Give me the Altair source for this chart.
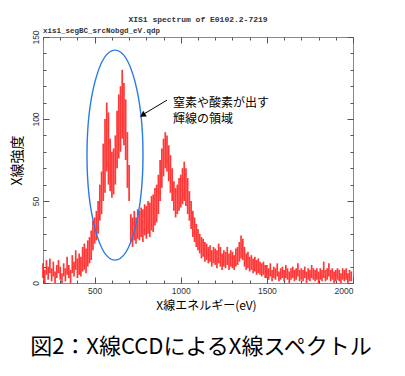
import altair as alt
import pandas as pd

# --- data (10 eV bins, low/high of the drawn error bars) ---
energy = list(range(200, 2000, 10))
low = [
    3, 0, 5, 2, 6, 1, 4, 0, 3, 6,
    2, 0, 4, 1, 5, 3, 0, 6, 4, 8,
    3, 5, 4, 7, 8, 6, 10, 12, 14, 20,
    24, 26, 30, 38, 42, 50, 55, 68, 60, 56,
    52, 54, 60, 70, 76, 80, 88, 84, 75, 58,
    50, 25, 22, 26, 24, 27, 26, 28, 25, 29,
    27, 30, 28, 32, 31, 35, 37, 42, 50, 58,
    65, 70, 68, 62, 55, 50, 44, 40, 42, 44,
    46, 48, 50, 47, 42, 38, 33, 28, 25, 22,
    20, 18, 15, 16, 13, 14, 12, 13, 10, 12,
    11, 9, 12, 10, 8, 10, 9, 11, 8, 10,
    9, 8, 10, 11, 13, 15, 14, 10, 8, 9,
    7, 8, 6, 7, 5, 6, 5, 4, 5, 3,
    3, 2, 4, 1, 3, 2, 4, 1, 2, 3,
    1, 3, 2, 0, 2, 3, 1, 2, 4, 1,
    2, 1, 3, 0, 2, 1, 3, 2, 1, 2,
    0, 2, 1, 3, 1, 2, 4, 1, 2, 0,
    1, 2, 1, 0, 2, 1, 2, 0, 1, 1,
]
high = [
    12, 8, 14, 10, 15, 9, 13, 7, 11, 14,
    10, 6, 12, 9, 16, 11, 8, 17, 13, 20,
    15, 18, 16, 22, 24, 21, 26, 28, 32, 38,
    40, 44, 50, 60, 68, 85, 100, 110, 104, 88,
    80, 82, 90, 105, 115, 120, 130, 122, 112, 92,
    72, 42, 40, 44, 40, 45, 44, 46, 45, 48,
    47, 50, 49, 53, 54, 58, 60, 66, 75, 82,
    88, 92, 90, 84, 78, 70, 62, 58, 60, 64,
    66, 70, 74, 70, 64, 56, 50, 44, 40, 36,
    33, 30, 28, 27, 25, 24, 22, 23, 20, 22,
    21, 20, 24, 22, 18, 20, 19, 22, 18, 20,
    19, 17, 21, 22, 25, 29, 27, 22, 18, 19,
    16, 17, 15, 16, 14, 15, 13, 12, 13, 11,
    11, 9, 12, 8, 10, 9, 12, 7, 9, 10,
    8, 11, 9, 7, 9, 10, 8, 9, 12, 8,
    9, 8, 10, 7, 9, 8, 11, 9, 8, 9,
    7, 9, 8, 13, 8, 9, 12, 8, 9, 7,
    8, 9, 8, 6, 9, 8, 9, 6, 8, 7,
]

x_major = [500, 1000, 1500, 2000]
x_minor = list(range(200, 2001, 100))
y_major = [0, 50, 100, 150]
y_minor = list(range(0, 151, 10))

title_text = "XIS1 spectrum of E0102.2-7219"
file_text = "xis1_segBC_srcNobgd_eV.qdp"
x_title = "X線エネルギー(eV)"
y_title = "X線強度"
note_text = ["窒素や酸素が出す", "輝線の領域"]
caption = "図2：X線CCDによるX線スペクトル"

df = pd.DataFrame({"energy": energy, "low": low, "high": high})

xs = alt.Scale(domain=[200, 2000], nice=False, zero=False)
ys = alt.Scale(domain=[0, 150], nice=False)

TICK = "#555555"
LBL_FONT = "Liberation Sans"
JP = "Noto Sans CJK JP"


def ax(values, size, orient, labels=False, **kw):
    return alt.Axis(values=values, tickSize=size, offset=-size, orient=orient,
                    domain=False, grid=False, labels=labels, tickColor=TICK,
                    tickWidth=1, **kw)


spectrum = alt.Chart(df).mark_rule(color="#ff1414", strokeWidth=1.7, opacity=0.85).encode(
    x=alt.X("energy:Q", scale=xs,
            axis=ax(x_major, 6, "bottom", labels=True, title=x_title, labelPadding=3,
                    format="d",
                    labelFont=LBL_FONT, labelFontSize=8.5, labelColor="#333333",
                    titleFont=JP, titleFontSize=12, titleFontWeight="normal",
                    titleColor="#000000", titlePadding=6, titleX=163)),
    y=alt.Y("low:Q", scale=ys,
            axis=ax(y_major, 6, "left", labels=True, title=y_title, labelPadding=3,
                    labelAngle=-90, labelAlign="center", labelBaseline="bottom",
                    labelFont=LBL_FONT, labelFontSize=8.5, labelColor="#333333",
                    titleFont=JP, titleFontSize=14, titleFontWeight="normal",
                    titleColor="#000000", titlePadding=7)),
    y2="high:Q",
)

minor_bl = alt.Chart(df).mark_point(opacity=0).encode(
    x=alt.X("energy:Q", scale=xs, axis=ax(x_minor, 3, "bottom", title=None)),
    y=alt.Y("low:Q", scale=ys, axis=ax(y_minor, 3, "left", title=None)),
)
major_tr = alt.Chart(df).mark_point(opacity=0).encode(
    x=alt.X("energy:Q", scale=xs, axis=ax(x_major, 6, "top", title=None)),
    y=alt.Y("low:Q", scale=ys, axis=ax(y_major, 6, "right", title=None)),
)
minor_tr = alt.Chart(df).mark_point(opacity=0).encode(
    x=alt.X("energy:Q", scale=xs, axis=ax(x_minor, 3, "top", title=None)),
    y=alt.Y("low:Q", scale=ys, axis=ax(y_minor, 3, "right", title=None)),
)

one = alt.Data(values=[{"k": 1}])

ellipse_path = ("M 0 -1 C 0.1473 -1 0.2667 -0.5523 0.2667 0 "
                "C 0.2667 0.5523 0.1473 1 0 1 C -0.1473 1 -0.2667 0.5523 -0.2667 0 "
                "C -0.2667 -0.5523 -0.1473 -1 0 -1 Z")
ellipse = alt.Chart(one).mark_point(shape=ellipse_path, size=44100, filled=False,
                                    stroke="#2a7ae8", strokeWidth=1.4, opacity=1).encode(
    x=alt.XDatum(618, scale=xs, axis=None),
    y=alt.YDatum(78, scale=ys, axis=None),
)

arrow_line = alt.Chart(one).mark_rule(color="#000000", strokeWidth=1).encode(
    x=alt.XDatum(920, scale=xs, axis=None),
    x2=alt.X2Datum(785),
    y=alt.YDatum(111.5, scale=ys, axis=None),
    y2=alt.Y2Datum(103),
)
arrow_head = alt.Chart(one).mark_point(shape="triangle-up", size=45, filled=True,
                                       color="#000000", opacity=1, angle=238).encode(
    x=alt.XDatum(778, scale=xs, axis=None),
    y=alt.YDatum(102.3, scale=ys, axis=None),
)

note = alt.Chart(one).mark_text(text=note_text, align="left", baseline="middle",
                                font=JP, fontSize=12, lineHeight=16, color="#000000").encode(
    x=alt.XDatum(955, scale=xs, axis=None),
    y=alt.YDatum(110, scale=ys, axis=None),
)

title_mark = alt.Chart(one).mark_text(text=title_text, align="center", baseline="middle",
                                      font="Liberation Mono", fontSize=8, fontWeight="bold",
                                      color="#333333", x=155, y=-17)
file_mark = alt.Chart(one).mark_text(text=file_text, align="left", baseline="middle",
                                     font="Liberation Mono", fontSize=7.5, fontWeight="bold",
                                     color="#333333", x=0, y=-6)
caption_mark = alt.Chart(one).mark_text(text=caption, align="center", baseline="middle",
                                        font=JP, fontSize=22, color="#000000",
                                        x=158, y=310)

chart = alt.layer(
    spectrum, minor_bl, major_tr, minor_tr, ellipse, arrow_line, arrow_head, note,
    title_mark, file_mark, caption_mark,
).resolve_axis(x="independent", y="independent").properties(
    width=310, height=246,
    padding={"left": 43, "top": 37, "right": 52, "bottom": 93},
    autosize=alt.AutoSizeParams(type="none"),
    background="#ffffff",
).configure_view(stroke="#888888", strokeWidth=1)

chart.save("out.html", embed_options={"renderer": "svg", "actions": False})
